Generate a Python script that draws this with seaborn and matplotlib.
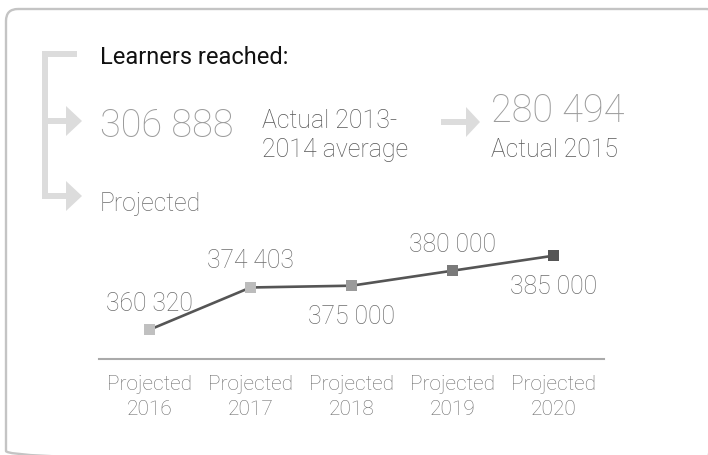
import matplotlib
matplotlib.use("Agg")
import matplotlib.pyplot as plt
from matplotlib.patches import FancyBboxPatch, Polygon
import seaborn as sns
import pandas as pd

# Learners reached - summary values
actual_avg_value = "306 888"
actual_avg_label = ["Actual 2013-", "2014 average"]
actual_2015_value = "280 494"
actual_2015_label = "Actual 2015"

# Projected series
years = ["2016", "2017", "2018", "2019", "2020"]
tick_labels = [f"Projected\n{y}" for y in years]
projected = [360320, 374403, 375000, 380000, 385000]
marker_colors = ["#c0c0c0", "#bcbcbc", "#9a9a9a", "#7a7a7a", "#555555"]
label_above = [True, True, False, True, False]

sns.set_theme(style="white")
plt.rcParams["font.family"] = ["Roboto", "DejaVu Sans"]

W, H = 708, 456
fig = plt.figure(figsize=(W / 100, H / 100), dpi=100)
fig.patch.set_facecolor("white")

# Background layer in pixel coordinates (y grows downward)
bg = fig.add_axes([0, 0, 1, 1], zorder=0)
bg.set_xlim(0, W)
bg.set_ylim(H, 0)
bg.axis("off")

# Rounded frame
bg.add_patch(FancyBboxPatch((6, 10), 712, 454,
                            boxstyle="round,pad=0,rounding_size=12",
                            facecolor="none", edgecolor="#c4c4c4", lw=1.7))

# Bracket with arrows
br = "#dcdcdc"
blw = 4.3
bg.plot([45, 45], [51.5, 200], color=br, lw=blw, solid_capstyle="butt")
bg.plot([42, 77], [54.5, 54.5], color=br, lw=blw, solid_capstyle="butt")
for yc in (122, 197):
    bg.plot([45, 67], [yc, yc], color=br, lw=blw, solid_capstyle="butt")
    bg.add_patch(Polygon([(66, yc - 15), (82, yc), (66, yc + 15)],
                         closed=True, color=br, lw=0))
# Arrow between actual values
bg.plot([441, 467], [123, 123], color=br, lw=blw, solid_capstyle="butt")
bg.add_patch(Polygon([(466, 108), (480, 123), (466, 138)], closed=True,
                     color=br, lw=0))

# Header texts
bg.text(100, 63.5, "Learners reached:", fontsize=17, color="#111111",
        ha="left", va="baseline")
bg.text(100, 137, actual_avg_value, fontsize=27.3, color="#9c9c9c",
        fontweight="light", ha="left", va="baseline")
bg.text(262, 128, actual_avg_label[0], fontsize=18, color="#585858",
        fontweight="light", ha="left", va="baseline")
bg.text(262, 156.7, actual_avg_label[1], fontsize=18, color="#585858",
        fontweight="light", ha="left", va="baseline")
bg.text(491, 122, actual_2015_value, fontsize=27.3, color="#9c9c9c",
        fontweight="light", ha="left", va="baseline")
bg.text(491, 157, actual_2015_label, fontsize=17.8, color="#585858",
        fontweight="light", ha="left", va="baseline")
bg.text(100, 211, "Projected", fontsize=17.8, color="#6c6c6c",
        fontweight="light", ha="left", va="baseline")

# Line chart of projections
ax = fig.add_axes([99 / W, 96 / H, 505 / W, 130 / H], zorder=1)
ax.set_facecolor("none")
df = pd.DataFrame({"year": years, "learners": projected})
sns.lineplot(data=df, x="year", y="learners", ax=ax, color="#555555",
             lw=1.9, sort=False)
sns.scatterplot(data=df, x="year", y="learners", hue="year",
                palette=marker_colors, marker="s", s=62, linewidth=0,
                legend=False, ax=ax, zorder=3)

ax.set_xlim(-0.5, 4.5)
ax.set_ylim(350550, 393910)
ax.set_xlabel("")
ax.set_ylabel("")
ax.set_yticks([])
ax.set_xticks(range(len(years)))
ax.set_xticklabels(tick_labels, fontsize=15, color="#6c6c6c",
                   fontweight="light", linespacing=1.35)
ax.set_xticks([i - 0.5 for i in range(len(years) + 1)], minor=True)
ax.tick_params(axis="x", which="major", length=0, pad=11)
ax.tick_params(axis="x", which="minor", length=2.5, width=1.4,
               direction="in", color="#aaaaaa")
for side in ("left", "right", "top"):
    ax.spines[side].set_visible(False)
ax.spines["bottom"].set_color("#aaaaaa")
ax.spines["bottom"].set_linewidth(1.5)

# Value labels
for i, (v, up) in enumerate(zip(projected, label_above)):
    txt = f"{v:,}".replace(",", " ")
    dy = 20 if up else -37
    ax.annotate(txt, (i, v), xytext=(0, dy), textcoords="offset pixels",
                ha="center", va="baseline", fontsize=17.8,
                color="#6c6c6c", fontweight="light")

fig.savefig("out.png", dpi=100)
